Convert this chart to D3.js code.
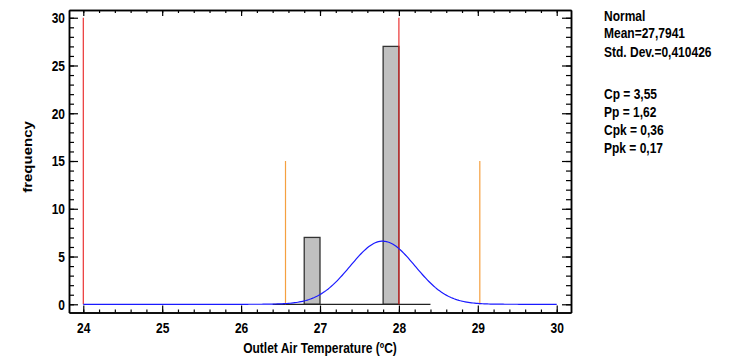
<!DOCTYPE html>
<html>
<head>
<meta charset="utf-8">
<script src="https://cdn.jsdelivr.net/npm/d3@7/dist/d3.min.js"></script>
<style>
  html, body { margin: 0; padding: 0; background: #fff; }
  svg text { font-family: "Liberation Sans", Arial, sans-serif; font-weight: bold; fill: #000; }
</style>
</head>
<body>
<svg id="chart" width="740" height="360"></svg>
<script>
// Histogram bins (lower edges, width 0.2) and counts
const binStarts = [26.4, 26.6, 26.8, 27.0, 27.2, 27.4, 27.6, 27.8, 28.0, 28.2];
const binCounts = [0, 0, 7, 0, 0, 0, 0, 27, 0, 0];
const binWidth = 0.2;

// Fitted normal distribution
const fitMean = 27.7941;
const fitSd = 0.410426;

// Specification limits (drawn full height) and axis ticks
const specLimits = [24, 28];
const xTicks = [24, 25, 26, 27, 28, 29, 30];
const yTicks = [0, 5, 10, 15, 20, 25, 30];

// Side panel text
const fitLabels = ["Normal", "Mean=27,7941", "Std. Dev.=0,410426"];
const capLabels = ["Cp = 3,55", "Pp = 1,62", "Cpk = 0,36", "Ppk = 0,17"];

const svg = d3.select("#chart");
const frame = { left: 69, right: 571, top: 10, bottom: 312.5 };
const SX = 0.8; // horizontal squeeze used for all lettering

const x = d3.scaleLinear().domain([23.819, 30.181]).range([frame.left, frame.right]);
const y = d3.scaleLinear().domain([-0.86, 30.81]).range([frame.bottom, frame.top]);

const xMinor = d3.range(24, 30.0001, 0.2).map(v => +v.toFixed(1));
const yMinor = d3.range(0, 31, 1);

const plot = svg.append("g");

// Bars
const total = d3.sum(binCounts);
const bins = binStarts.map((s, i) => ({ x0: s, x1: +(s + binWidth).toFixed(1), n: binCounts[i] }));
plot.selectAll("rect.bar").data(bins.filter(d => d.n > 0)).join("rect")
  .attr("class", "bar")
  .attr("x", d => x(d.x0))
  .attr("y", d => y(d.n))
  .attr("width", d => x(d.x1) - x(d.x0))
  .attr("height", d => y(0) - y(d.n))
  .attr("fill", "#c0c0c0")
  .attr("stroke", "#333")
  .attr("stroke-width", 1.3);

// Histogram base line across all bins
plot.append("line")
  .attr("x1", x(d3.min(bins, d => d.x0))).attr("x2", x(d3.max(bins, d => d.x1)))
  .attr("y1", y(0)).attr("y2", y(0))
  .attr("stroke", "#222").attr("stroke-width", 1.3);

// Mean ± 3 sigma markers
const sigmaLines = [fitMean - 3 * fitSd, fitMean + 3 * fitSd];
plot.selectAll("line.sigma").data(sigmaLines).join("line")
  .attr("class", "sigma")
  .attr("x1", d => x(d)).attr("x2", d => x(d))
  .attr("y1", y(0)).attr("y2", y(15))
  .attr("stroke", "#f5a040").attr("stroke-width", 1.2);

// Specification limits
plot.selectAll("line.spec").data(specLimits).join("line")
  .attr("class", "spec")
  .attr("x1", d => x(d)).attr("x2", d => x(d))
  .attr("y1", y(0)).attr("y2", y(30))
  .attr("stroke", "#e82020").attr("stroke-width", 1.1);

// Fitted density scaled to counts
const pdf = v => Math.exp(-0.5 * ((v - fitMean) / fitSd) ** 2) / (fitSd * Math.sqrt(2 * Math.PI));
const curvePts = d3.range(24, 30.0001, 0.02).map(v => [v, pdf(v) * total * binWidth]);
plot.append("path")
  .datum(curvePts)
  .attr("fill", "none")
  .attr("stroke", "#1a1aff")
  .attr("stroke-width", 1.2)
  .attr("d", d3.line().x(d => x(d[0])).y(d => y(d[1])));

// Axes: ticks point into the plot on all four sides
function styleAxis(g) {
  g.selectAll("path.domain").attr("stroke", "#000").attr("stroke-width", 1.5);
  g.selectAll(".tick line").attr("stroke", "#000").attr("stroke-width", 1.2);
  g.selectAll("text").attr("font-size", 15).attr("font-family", null).attr("fill", "#000");
}

// bottom
svg.append("g").attr("transform", `translate(0,${frame.bottom})`)
  .call(d3.axisBottom(x).tickValues(xMinor).tickSize(-3).tickSizeOuter(0).tickFormat(""))
  .call(styleAxis);
const bx = svg.append("g").attr("transform", `translate(0,${frame.bottom})`)
  .call(d3.axisBottom(x).tickValues(xTicks).tickSize(-7).tickSizeOuter(0).tickPadding(9.5).tickFormat(d3.format("d")))
  .call(styleAxis);
bx.selectAll(".tick text").attr("transform", `scale(${SX},1)`);

// top
svg.append("g").attr("transform", `translate(0,${frame.top})`)
  .call(d3.axisTop(x).tickValues(xMinor).tickSize(-3).tickSizeOuter(0).tickFormat(""))
  .call(styleAxis);
svg.append("g").attr("transform", `translate(0,${frame.top})`)
  .call(d3.axisTop(x).tickValues(xTicks).tickSize(-6).tickSizeOuter(0).tickFormat(""))
  .call(styleAxis);

// left
svg.append("g").attr("transform", `translate(${frame.left},0)`)
  .call(d3.axisLeft(y).tickValues(yMinor).tickSize(-5).tickSizeOuter(0).tickFormat(""))
  .call(styleAxis);
const ly = svg.append("g").attr("transform", `translate(${frame.left},0)`)
  .call(d3.axisLeft(y).tickValues(yTicks).tickSize(-9).tickSizeOuter(0).tickPadding(4).tickFormat(d3.format("d")))
  .call(styleAxis);
ly.selectAll(".tick text").attr("x", -4 / SX).attr("transform", `scale(${SX},1)`);

// right
svg.append("g").attr("transform", `translate(${frame.right},0)`)
  .call(d3.axisRight(y).tickValues(yMinor).tickSize(-5).tickSizeOuter(0).tickFormat(""))
  .call(styleAxis);
svg.append("g").attr("transform", `translate(${frame.right},0)`)
  .call(d3.axisRight(y).tickValues(yTicks).tickSize(-9).tickSizeOuter(0).tickFormat(""))
  .call(styleAxis);

// Axis titles
svg.append("text")
  .attr("transform", `translate(${(frame.left + frame.right) / 2},352.5) scale(${SX},1)`)
  .attr("text-anchor", "middle").attr("font-size", 15)
  .text("Outlet Air Temperature (ºC)");

svg.append("text")
  .attr("transform", `translate(31.5,157) scale(${SX},1) rotate(-90)`)
  .attr("text-anchor", "middle").attr("font-size", 15)
  .text("frequency");

// Side panel
const panelX = 604;
const fitY = [20.5, 38, 57];
const capY = [99, 117, 135, 153];
svg.selectAll("text.fit").data(fitLabels).join("text")
  .attr("class", "fit")
  .attr("transform", (d, i) => `translate(${panelX},${fitY[i]}) scale(${SX},1)`)
  .attr("font-size", 15)
  .text(d => d);
svg.selectAll("text.cap").data(capLabels).join("text")
  .attr("class", "cap")
  .attr("transform", (d, i) => `translate(${panelX},${capY[i]}) scale(${SX},1)`)
  .attr("font-size", 15)
  .text(d => d);
</script>
</body>
</html>
